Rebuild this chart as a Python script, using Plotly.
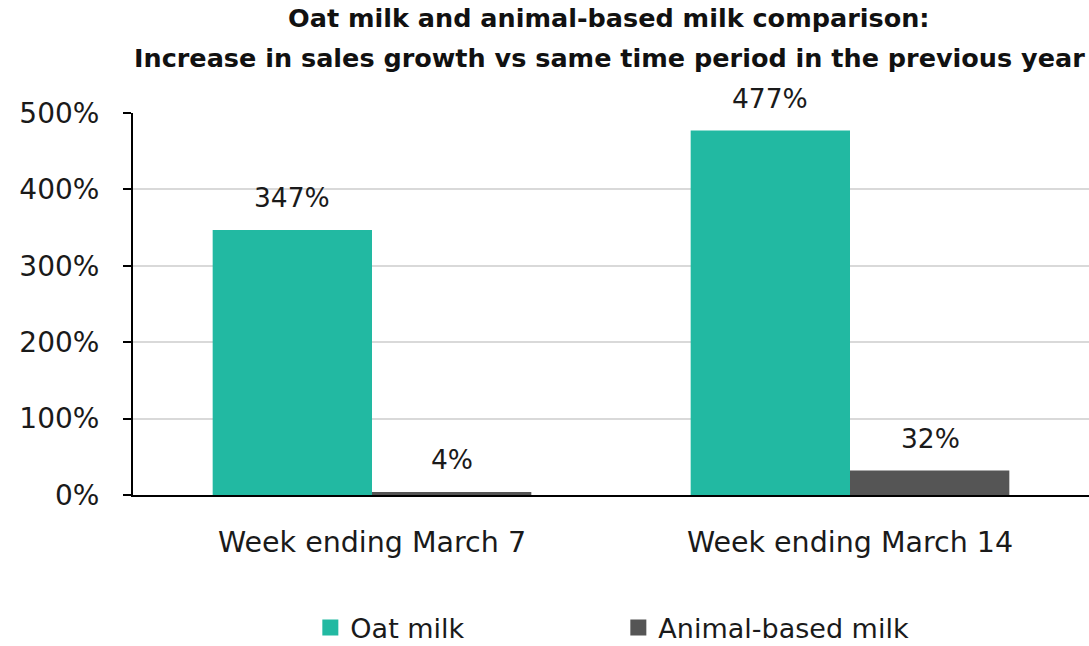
import plotly.graph_objects as go

categories = ["Week ending March 7", "Week ending March 14"]
oat_milk = [347, 477]
animal_milk = [4, 32]
series_names = ["Oat milk", "Animal-based milk"]
y_ticks = [0, 100, 200, 300, 400, 500]
y_tick_labels = [f"{v}%" for v in y_ticks]
title_lines = ["Oat milk and animal-based milk comparison:",
               "Increase in sales growth vs same time period in the previous year"]

OAT_COLOR = "#22b9a2"
ANIMAL_COLOR = "#555555"
FONT = "'DejaVu Sans', sans-serif"
TEXT_COLOR = "#1a1a1a"

fig = go.Figure()
for name, vals, color in ((series_names[0], oat_milk, OAT_COLOR),
                          (series_names[1], animal_milk, ANIMAL_COLOR)):
    fig.add_trace(go.Bar(name=name, x=categories, y=vals, showlegend=False,
                         marker=dict(color=color, line=dict(width=0))))
    # square legend swatches
    fig.add_trace(go.Scatter(name=name, x=[None], y=[None], mode="markers",
                             marker=dict(symbol="square", size=20, color=color)))

# value labels above each bar
for vals, shift in ((oat_milk, -80), (animal_milk, 80)):
    for cat, v in zip(categories, vals):
        fig.add_annotation(x=cat, y=v, text=f"{v}%", showarrow=False,
                           xshift=shift, yshift=32,
                           font=dict(size=26.5, color=TEXT_COLOR, family=FONT))

# two-line bold title above the plot
for line, ypos in zip(title_lines, (1.249, 1.144)):
    fig.add_annotation(
        xref="paper", yref="paper", x=0.498, y=ypos, xanchor="center", yanchor="middle",
        text=f"<b>{line}</b>", showarrow=False,
        font=dict(size=25.5, color="#111111", family=FONT),
    )

fig.update_layout(
    width=1089, height=646,
    margin=dict(l=133, r=0, t=113, b=151, autoexpand=False),
    paper_bgcolor="white", plot_bgcolor="white",
    barmode="group", bargap=1/3, bargroupgap=0,
    font=dict(family=FONT, color=TEXT_COLOR),
    legend=dict(orientation="h", x=0.1855, xanchor="left",
                yref="container", y=0.028, yanchor="middle",
                font=dict(size=27, color=TEXT_COLOR),
                entrywidth=263, entrywidthmode="pixels", traceorder="normal",
                itemsizing="trace"),
    showlegend=True,
)
fig.update_xaxes(showline=True, linecolor="black", linewidth=2, showgrid=False,
                 ticks="", tickfont=dict(size=28.5, color=TEXT_COLOR),
                 ticklabelstandoff=21)
fig.update_yaxes(range=[0, 500], tickvals=y_ticks, ticktext=y_tick_labels,
                 showline=True, linecolor="black", linewidth=2,
                 ticks="outside", ticklen=8, tickwidth=2, tickcolor="black",
                 showgrid=True, gridcolor="#d9d9d9", gridwidth=1.5,
                 zeroline=False, tickfont=dict(size=28, color=TEXT_COLOR),
                 ticklabelstandoff=18)

fig.write_html("out.html")
